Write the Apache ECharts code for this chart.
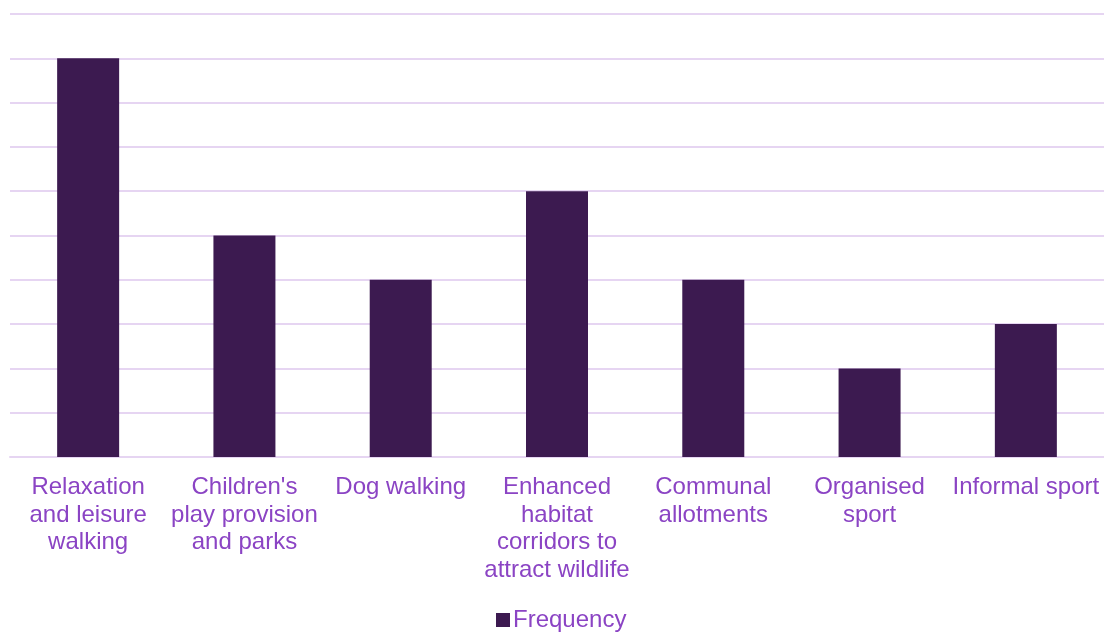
<!DOCTYPE html>
<html>
<head>
<meta charset="utf-8">
<title>Frequency</title>
<script src="https://cdn.jsdelivr.net/npm/echarts@6/dist/echarts.min.js"></script>
<style>
  html, body { margin: 0; padding: 0; background: #ffffff; }
  #chart { width: 1104px; height: 632px; }
</style>
</head>
<body>
<div id="chart"></div>
<script>
// Categories (line breaks as printed under the axis)
const categories = [
  'Relaxation\nand leisure\nwalking',
  "Children's\nplay provision\nand parks",
  'Dog walking',
  'Enhanced\nhabitat\ncorridors to\nattract wildlife',
  'Communal\nallotments',
  'Organised\nsport',
  'Informal sport'
];
const frequency = [9, 5, 4, 6, 4, 2, 3];
const seriesName = 'Frequency';

const barColor = '#3c1a50';
const textColor = '#8b44c4';
const gridColor = '#e6d5f2';
const fontFamily = 'Liberation Sans, Arial, sans-serif';

const chart = echarts.init(document.getElementById('chart'), null, { renderer: 'canvas' });
chart.setOption({
  animation: false,
  grid: { left: 10, right: 0, top: 14, bottom: 175, containLabel: false },
  legend: {
    data: [seriesName],
    bottom: -5,
    left: 491,
    icon: 'rect',
    itemWidth: 14,
    itemHeight: 14,
    itemGap: 4,
    textStyle: { color: textColor, fontSize: 24, fontFamily: fontFamily, padding: [0, 0, 0, -2] }
  },
  xAxis: {
    type: 'category',
    data: categories,
    axisLine: { show: true, lineStyle: { color: gridColor, width: 2 } },
    axisTick: { show: false },
    axisLabel: {
      interval: 0,
      color: textColor,
      fontSize: 24,
      lineHeight: 27.5,
      margin: 17,
      fontFamily: fontFamily
    }
  },
  yAxis: {
    type: 'value',
    min: 0,
    max: 10,
    interval: 1,
    axisLabel: { show: false },
    axisLine: { show: false },
    axisTick: { show: false },
    splitLine: { lineStyle: { color: gridColor, width: 2 } }
  },
  series: [{
    name: seriesName,
    type: 'bar',
    data: frequency,
    barWidth: 62,
    itemStyle: { color: barColor }
  }]
});
</script>
</body>
</html>
